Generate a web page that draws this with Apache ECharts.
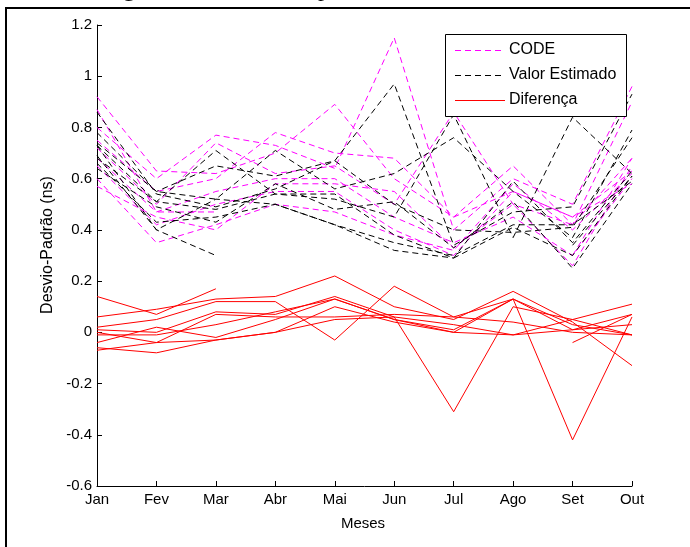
<!DOCTYPE html>
<html>
<head>
<meta charset="utf-8">
<script src="https://cdn.jsdelivr.net/npm/echarts@6/dist/echarts.min.js"></script>
<style>
html,body{margin:0;padding:0;background:#fff;}
#chart{width:690px;height:547px;}
</style>
</head>
<body>
<div id="chart"></div>
<script>
const months = ['Jan','Fev','Mar','Abr','Mai','Jun','Jul','Ago','Set','Out'];
const yTicks = [-0.6,-0.4,-0.2,0,0.2,0.4,0.6,0.8,1,1.2];
const legendNames = ['CODE','Valor Estimado','Diferença'];

// CODE (magenta dashed), one row per station
const codeValues = [
  [0.87,0.47,0.47,null,null,null,null,null,null,null],
  [0.92,0.63,0.62,0.70,0.89,0.60,0.45,0.55,0.45,0.63],
  [0.80,0.60,0.77,0.73,0.64,1.15,0.40,0.60,0.50,0.96],
  [0.75,0.55,0.60,0.78,0.70,0.68,0.45,0.65,0.42,0.90],
  [0.72,0.50,0.74,0.62,0.65,0.50,0.86,0.50,0.42,0.68],
  [0.68,0.47,0.55,0.60,0.60,0.45,0.35,0.45,0.30,0.60],
  [0.65,0.42,0.50,0.55,0.55,0.40,0.30,0.55,0.45,0.58],
  [0.60,0.35,0.42,0.50,0.47,0.38,0.32,0.58,0.40,0.62],
  [0.57,0.45,0.40,0.58,0.58,0.55,0.33,0.50,0.26,0.65],
  [null,null,null,null,null,null,null,null,0.30,0.68]
];
// Valor Estimado (black dashed)
const estValues = [
  [0.73,0.40,0.30,null,null,null,null,null,null,null],
  [0.86,0.54,0.49,0.56,0.67,0.50,0.40,0.39,0.41,0.76],
  [0.78,0.55,0.65,0.61,0.67,0.97,0.34,0.47,0.49,0.93],
  [0.74,0.55,0.52,0.71,0.56,0.62,0.76,0.55,0.37,0.79],
  [0.73,0.51,0.71,0.54,0.52,0.45,0.85,0.37,0.84,0.62],
  [0.68,0.51,0.48,0.54,0.54,0.38,0.29,0.41,0.30,0.61],
  [0.69,0.40,0.52,0.50,0.42,0.35,0.30,0.42,0.42,0.59],
  [0.66,0.43,0.45,0.50,0.42,0.32,0.29,0.59,0.35,0.63],
  [0.64,0.49,0.43,0.58,0.48,0.51,0.33,0.51,0.25,0.58],
  [null,null,null,null,null,null,null,null,0.34,0.61]
];
// Diferença (red solid)
const difValues = [
  [0.14,0.07,0.17,null,null,null,null,null,null,null],
  [0.06,0.09,0.13,0.14,0.22,0.10,0.05,0.16,0.04,-0.13],
  [0.02,0.05,0.12,0.12,-0.03,0.18,0.06,0.13,0.01,0.03],
  [0.01,0.00,0.08,0.07,0.14,0.06,-0.31,0.10,0.05,0.11],
  [-0.01,-0.01,0.03,0.08,0.13,0.05,0.01,0.13,-0.42,0.06],
  [0.00,-0.04,0.07,0.06,0.06,0.07,0.06,0.04,0.00,-0.01],
  [-0.04,0.02,-0.02,0.05,0.13,0.05,0.00,0.13,0.03,-0.01],
  [-0.06,-0.08,-0.03,0.00,0.05,0.06,0.03,-0.01,0.05,-0.01],
  [-0.07,-0.04,-0.03,0.00,0.10,0.04,0.00,-0.01,0.01,0.07],
  [null,null,null,null,null,null,null,null,-0.04,0.07]
];

const FONT = 'Liberation Sans, Arial, Helvetica, sans-serif';
const DASH = [6,4];
const series = [];
function addGroup(rows, name, color, dashed){
  rows.forEach(r => series.push({
    name: name, type: 'line', data: r, symbol: 'none', showSymbol: false,
    connectNulls: false, silent: true, animation: false,
    lineStyle: {color: color, width: 1, type: dashed ? DASH : 'solid'},
    itemStyle: {color: color}
  }));
}
addGroup(codeValues, legendNames[0], '#ff00ff', true);
addGroup(estValues, legendNames[1], '#000000', true);
addGroup(difValues, legendNames[2], '#ff0000', false);

// manual legend (MATLAB style box)
const legendColors = ['#ff00ff','#000000','#ff0000'];
const legendDash = [DASH, DASH, null];
const legendGraphic = [{type:'rect', shape:{x:445.5, y:34.5, width:181, height:82},
  style:{fill:'#fff', stroke:'#000', lineWidth:1}, z:100, silent:true}];
legendNames.forEach((n,i) => {
  const y = 50 + i*25;
  legendGraphic.push({type:'line', shape:{x1:455, y1:y+0.5, x2:505, y2:y+0.5},
    style:{stroke:legendColors[i], lineWidth:1, lineDash:legendDash[i]}, z:101, silent:true});
  legendGraphic.push({type:'text', x:509, y:y,
    style:{text:n, font:'16px '+FONT, fill:'#000', align:'left', verticalAlign:'middle'}, z:101, silent:true});
});

const chart = echarts.init(document.getElementById('chart'), null, {renderer:'canvas'});
chart.setOption({
  animation: false,
  backgroundColor: '#ffffff',
  grid: {left: 97, right: 58, top: 25, bottom: 61, containLabel: false},
  xAxis: {
    type: 'category', data: months, boundaryGap: false,
    axisLine: {onZero: false, lineStyle: {color: '#000', width: 1}},
    axisTick: {inside: true, length: 5, lineStyle: {color: '#000'}},
    axisLabel: {color: '#000', fontSize: 15, fontFamily: FONT, margin: 6, interval: 0},
    splitLine: {show: false}
  },
  yAxis: {
    type: 'value', min: yTicks[0], max: yTicks[yTicks.length-1], interval: 0.2,
    axisLine: {show: true, onZero: false, lineStyle: {color: '#000', width: 1}},
    axisTick: {show: true, inside: true, length: 5, lineStyle: {color: '#000'}},
    axisLabel: {color: '#000', fontSize: 15, fontFamily: FONT, margin: 5,
      formatter: v => String(Math.round(v*10)/10)},
    splitLine: {show: false}
  },
  graphic: [
    {type: 'line', shape: {x1: 6, y1: 8, x2: 6, y2: 547}, style: {stroke: '#000', lineWidth: 2}, silent: true},
    {type: 'line', shape: {x1: 5, y1: 8, x2: 690, y2: 8}, style: {stroke: '#000', lineWidth: 2}, silent: true},
    {type: 'text', left: 123, top: -22, style: {text: 'g', font: '24px Liberation Serif, Times New Roman, serif', fill: '#000'}, silent: true},
    {type: 'text', left: 318, top: -22, style: {text: 'p', font: '24px Liberation Serif, Times New Roman, serif', fill: '#000'}, silent: true},
    {type: 'text', x: 48, y: 245, rotation: Math.PI/2,
      style: {text: 'Desvio-Padrão (ns)', font: '16px ' + FONT, fill: '#000', align: 'center', verticalAlign: 'middle'}, silent: true},
    {type: 'text', x: 363, y: 524,
      style: {text: 'Meses', font: '15px ' + FONT, fill: '#000', align: 'center', verticalAlign: 'middle'}, silent: true}
  ].concat(legendGraphic),
  series: series
});
</script>
</body>
</html>
